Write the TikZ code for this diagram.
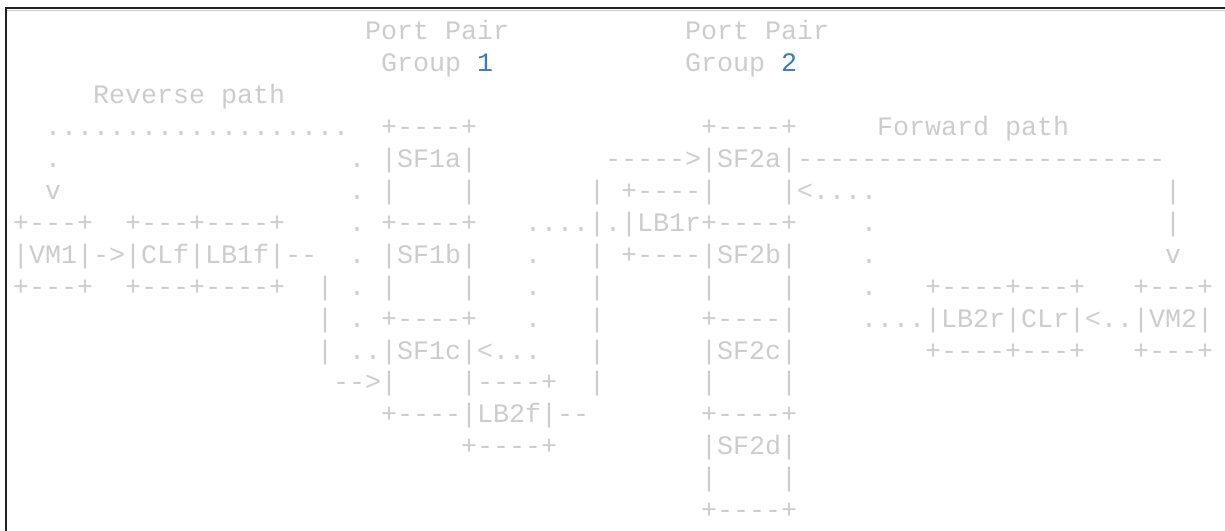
\documentclass[tikz,border=0pt]{standalone}
\usepackage{fontspec}
\setmonofont{Liberation Mono}
\usepackage{tikz}
\definecolor{asciiGrey}{HTML}{CCCCCC}
\definecolor{numBlue}{HTML}{3A7AB5}
\definecolor{frameDark}{HTML}{222222}
\begin{document}
\begin{tikzpicture}
[x=16pt,y=-31.9pt,
txt/.style={anchor=base west,inner sep=0pt,outer sep=0pt,text=asciiGrey,font=\ttfamily\fontsize{26.67}{32}\selectfont},
num/.style={numBlue},
frameLine/.style={frameDark,line width=1.7pt},
frameShade/.style={asciiGrey,line width=1pt},
]
\useasboundingbox (-0.8125,-1.2539) rectangle (75.75,15.3918);
\draw[frameShade] (-0.4,-0.94) -- (75.75,-0.94);
\draw[frameLine] (-0.4375,15.3918) |- (75.75,-1.0031);
% row 0 - 2
\node[txt,] (1) at (22 , 0) {Port Pair};
\node[txt,] (2) at (42 , 0) {Port Pair};
\node[txt,] (3) at (23 , 1) {Group \textcolor{numBlue}{1}};
\node[txt,] (4) at (42 , 1) {Group \textcolor{numBlue}{2}};
\node[txt,] (5) at (5 , 2) {Reverse path};
% row 3
\node[txt,] (6) at (2 , 3) {...................};
\node[txt,] (7) at (23 , 3) {+----+};
\node[txt,] (8) at (43 , 3) {+----+};
\node[txt,] (9) at (54 , 3) {Forward path};
% row 4
\node[txt,] (10) at (2 , 4) {.};
\node[txt,] (11) at (21 , 4) {.};
\node[txt,] (12) at (23 , 4) {|SF1a|};
\node[txt,] (13) at (37 , 4) {----->|SF2a|-----------------------};
% row 5
\node[txt,] (14) at (2 , 5) {v};
\node[txt,] (15) at (21 , 5) {.};
\node[txt,] (16) at (23 , 5) {|};
\node[txt,] (17) at (28 , 5) {|};
\node[txt,] (18) at (36 , 5) {|};
\node[txt,] (19) at (38 , 5) {+----|};
\node[txt,] (20) at (48 , 5) {|<....};
\node[txt,] (21) at (72 , 5) {|};
% row 6
\node[txt,] (22) at (0 , 6) {+---+};
\node[txt,] (23) at (7 , 6) {+---+----+};
\node[txt,] (24) at (21 , 6) {.};
\node[txt,] (25) at (23 , 6) {+----+};
\node[txt,] (26) at (32 , 6) {....|.|LB1r+----+};
\node[txt,] (27) at (53 , 6) {.};
\node[txt,] (28) at (72 , 6) {|};
% row 7
\node[txt,] (29) at (0 , 7) {|VM1|->|CLf|LB1f|--};
\node[txt,] (30) at (21 , 7) {.};
\node[txt,] (31) at (23 , 7) {|SF1b|};
\node[txt,] (32) at (32 , 7) {.};
\node[txt,] (33) at (36 , 7) {|};
\node[txt,] (34) at (38 , 7) {+----|SF2b|};
\node[txt,] (35) at (53 , 7) {.};
\node[txt,] (36) at (72 , 7) {v};
% row 8
\node[txt,] (37) at (0 , 8) {+---+};
\node[txt,] (38) at (7 , 8) {+---+----+};
\node[txt,] (39) at (19 , 8) {|};
\node[txt,] (40) at (21 , 8) {.};
\node[txt,] (41) at (23 , 8) {|};
\node[txt,] (42) at (28 , 8) {|};
\node[txt,] (43) at (32 , 8) {.};
\node[txt,] (44) at (36 , 8) {|};
\node[txt,] (45) at (43 , 8) {|};
\node[txt,] (46) at (48 , 8) {|};
\node[txt,] (47) at (53 , 8) {.};
\node[txt,] (48) at (57 , 8) {+----+---+};
\node[txt,] (49) at (70 , 8) {+---+};
% row 9
\node[txt,] (50) at (19 , 9) {|};
\node[txt,] (51) at (21 , 9) {.};
\node[txt,] (52) at (23 , 9) {+----+};
\node[txt,] (53) at (32 , 9) {.};
\node[txt,] (54) at (36 , 9) {|};
\node[txt,] (55) at (43 , 9) {+----|};
\node[txt,] (56) at (53 , 9) {....|LB2r|CLr|<..|VM2|};
% row 10
\node[txt,] (57) at (19 , 10) {|};
\node[txt,] (58) at (21 , 10) {..|SF1c|<...};
\node[txt,] (59) at (36 , 10) {|};
\node[txt,] (60) at (43 , 10) {|SF2c|};
\node[txt,] (61) at (57 , 10) {+----+---+};
\node[txt,] (62) at (70 , 10) {+---+};
% row 11
\node[txt,] (63) at (20 , 11) {-->|};
\node[txt,] (64) at (28 , 11) {|----+};
\node[txt,] (65) at (36 , 11) {|};
\node[txt,] (66) at (43 , 11) {|};
\node[txt,] (67) at (48 , 11) {|};
% row 12 - 15
\node[txt,] (68) at (23 , 12) {+----|LB2f|--};
\node[txt,] (69) at (43 , 12) {+----+};
\node[txt,] (70) at (28 , 13) {+----+};
\node[txt,] (71) at (43 , 13) {|SF2d|};
\node[txt,] (72) at (43 , 14) {|};
\node[txt,] (73) at (48 , 14) {|};
\node[txt,] (74) at (43 , 15) {+----+};
\end{tikzpicture}
\end{document}
